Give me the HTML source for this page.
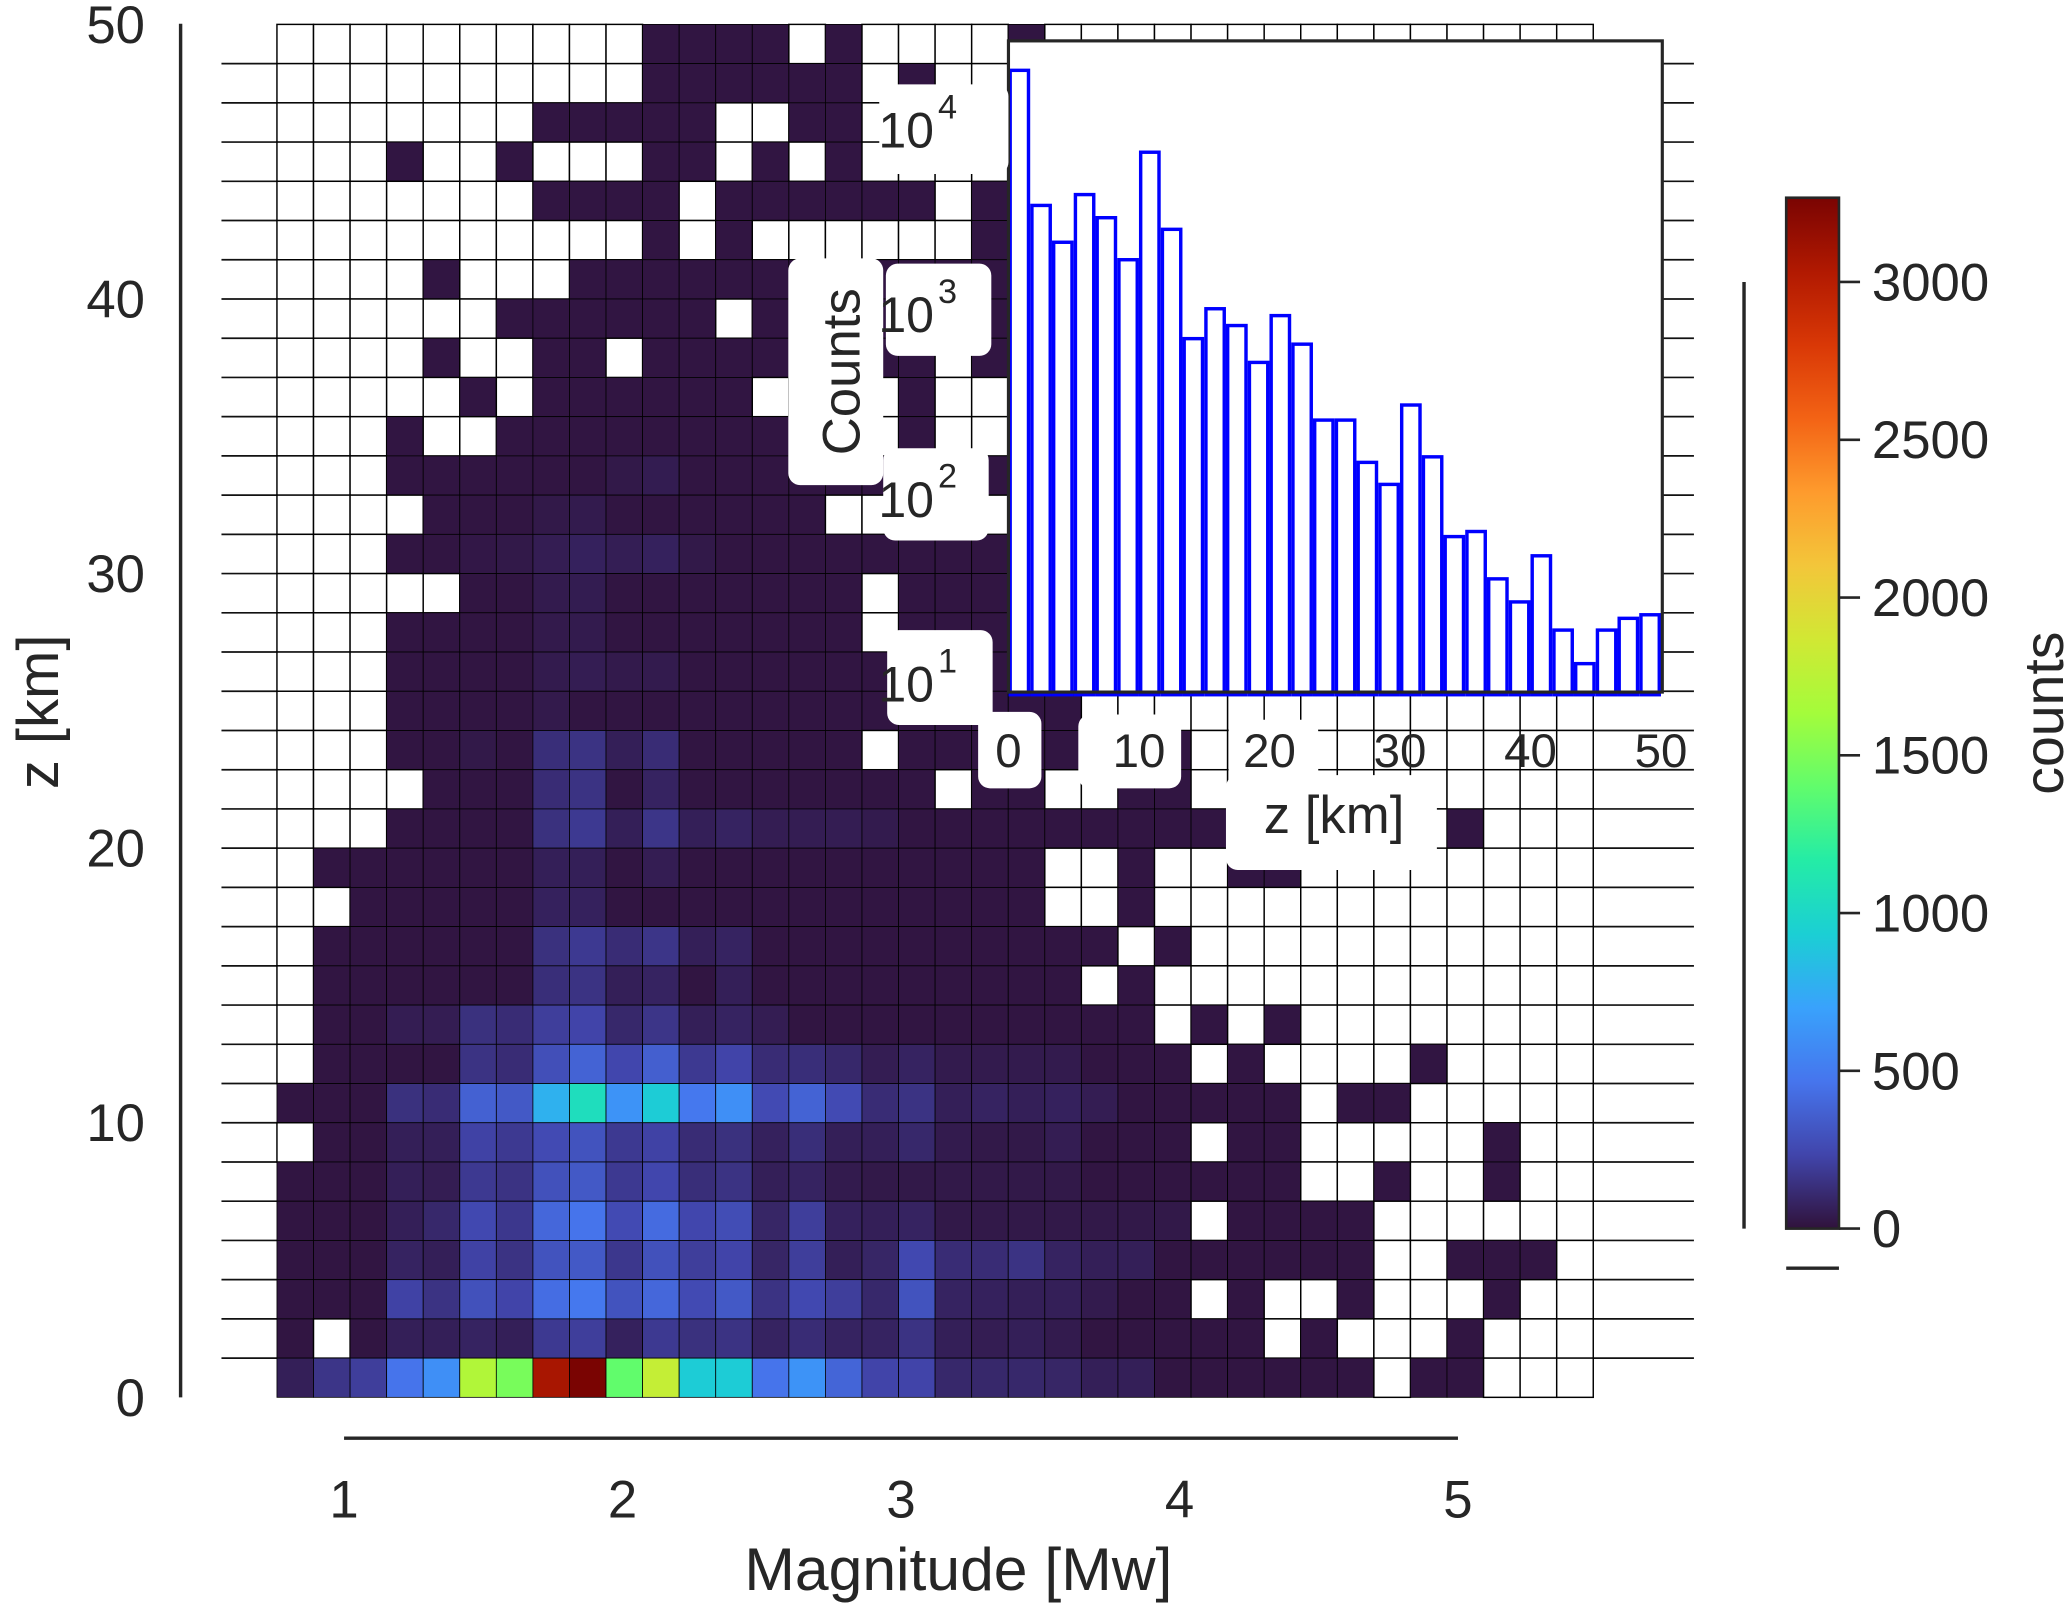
<!DOCTYPE html>
<html><head><meta charset="utf-8"><title>Magnitude vs depth heatmap</title>
<style>
html,body{margin:0;padding:0;background:#fff;}
svg{display:block;}
text{font-family:"Liberation Sans Narrow","Liberation Sans",Arial,sans-serif;fill:#262626;}
</style></head>
<body>
<svg id="chart" width="2067" height="1608" viewBox="0 0 1568 1219.8" xmlns="http://www.w3.org/2000/svg">
  <rect x="0" y="0" width="1568" height="1220" fill="#fff"/>
  <g id="gridlines"></g>
  <g id="heatmap"></g>
  <g id="axes"></g>
  <g id="inset"></g>
  <g id="colorbar"></g>
</svg>
<script>
// ---------- heatmap data (rows top = deepest bin, bottom = 0 km) ----------
const magMin = 0.759;
const magBinW = 0.1313;
const nCols = 36;
const zMax = 50;
const nRows = 35;
const vmax = 3267;
const D = 15;
const _ = null;
const counts = [
/*0*/ [_,_,_,_,_,_,_,_,_,_,D,D,D,D,_,D,_,_,_,_,D,_,_,_,_,_,_,_,_,_,_,_,_,_,_,_],
/*1*/ [_,_,_,_,_,_,_,_,_,_,D,D,D,D,D,D,_,D,_,_,_,_,_,_,_,_,_,_,_,_,_,_,_,_,_,_],
/*2*/ [_,_,_,_,_,_,_,D,D,D,D,D,_,_,D,D,_,_,_,_,_,_,_,_,_,_,_,_,_,_,_,_,_,_,_,_],
/*3*/ [_,_,_,D,_,_,D,_,_,_,D,D,_,D,_,D,_,_,_,_,_,_,_,_,_,_,_,_,_,_,_,_,_,_,_,_],
/*4*/ [_,_,_,_,_,_,_,D,D,D,D,_,D,D,D,D,D,D,_,D,_,_,_,_,_,_,_,_,_,_,_,_,_,_,_,_],
/*5*/ [_,_,_,_,_,_,_,_,_,_,D,_,D,_,_,_,_,_,_,D,_,_,_,_,_,_,_,_,_,_,_,_,_,_,_,_],
/*6*/ [_,_,_,_,D,_,_,_,D,D,D,D,D,D,D,D,D,D,D,D,_,_,_,_,_,_,_,_,_,_,_,_,_,_,_,_],
/*7*/ [_,_,_,_,_,_,D,D,D,D,D,D,_,D,D,D,D,D,D,D,_,_,_,_,_,_,_,_,_,_,_,_,_,_,_,_],
/*8*/ [_,_,_,_,D,_,_,D,D,_,D,D,D,D,D,D,D,D,_,D,_,_,_,_,_,_,_,_,_,_,_,_,_,_,_,_],
/*9*/ [_,_,_,_,_,D,_,D,D,D,D,D,D,_,D,D,_,D,_,_,_,_,_,_,_,_,_,_,_,_,_,_,_,_,_,_],
/*10*/[_,_,_,D,_,_,D,D,D,D,D,D,D,D,D,D,_,D,_,_,_,_,_,_,_,_,_,_,_,_,_,_,_,_,_,_],
/*11*/[_,_,_,D,D,D,D,D,D,30,45,D,D,D,D,D,D,D,D,D,_,_,_,_,_,_,_,_,_,_,_,_,_,_,_,_],
/*12*/[_,_,_,_,D,D,D,30,40,D,D,D,D,D,D,_,_,_,_,_,_,_,_,_,_,_,_,_,_,_,_,_,_,_,_,_],
/*13*/[_,_,_,D,D,25,30,50,70,55,70,30,D,D,D,D,D,D,D,D,_,_,_,_,_,_,_,_,_,_,_,_,_,_,_,_],
/*14*/[_,_,_,_,_,D,D,40,45,D,D,D,D,D,D,D,_,D,D,D,_,_,_,_,_,_,_,_,_,_,_,_,_,_,_,_],
/*15*/[_,_,_,D,D,D,D,35,40,D,D,D,D,D,D,D,_,D,D,D,_,_,_,_,_,_,_,_,_,_,_,_,_,_,_,_],
/*16*/[_,_,_,D,D,D,D,40,50,35,40,D,D,D,D,D,D,D,D,D,_,_,_,_,_,_,_,_,_,_,_,_,_,_,_,_],
/*17*/[_,_,_,D,D,D,D,35,D,D,D,D,D,D,D,D,D,D,D,D,D,D,_,_,_,_,_,_,_,_,_,_,_,_,_,_],
/*18*/[_,_,_,D,D,30,D,130,150,60,120,D,D,D,D,D,_,D,D,D,D,D,D,D,D,_,_,_,_,_,_,_,_,_,_,_],
/*19*/[_,_,_,_,D,D,D,120,150,D,80,D,D,D,D,D,D,D,_,D,D,_,_,D,D,_,_,_,_,_,_,_,_,_,_,_],
/*20*/[_,_,_,D,D,D,D,140,180,60,160,60,80,50,50,50,40,D,D,D,D,D,D,D,D,D,D,D,_,_,_,_,D,_,_,_],
/*21*/[_,D,D,D,D,D,D,60,60,D,50,D,D,D,D,D,D,D,D,D,D,_,_,D,_,_,D,D,_,_,_,_,_,_,_,_],
/*22*/[_,_,D,D,D,D,D,70,70,D,D,D,D,D,D,D,D,D,D,D,D,_,_,D,_,_,_,_,_,_,_,_,_,_,_,_],
/*23*/[_,D,D,D,D,D,D,140,180,120,160,60,80,D,D,D,D,D,D,D,D,D,D,_,D,_,_,_,_,_,_,_,_,_,_,_],
/*24*/[_,D,D,D,D,D,D,130,150,60,80,D,60,D,D,D,D,D,D,D,D,D,_,D,_,_,_,_,_,_,_,_,_,_,_,_],
/*25*/[_,D,D,50,50,140,120,200,230,100,160,60,80,50,D,D,D,D,D,D,D,D,D,D,_,D,_,D,_,_,_,_,_,_,_,_],
/*26*/[_,D,D,D,D,150,120,280,380,240,360,180,230,120,130,100,50,80,40,40,40,40,D,D,D,_,D,_,_,_,_,D,_,_,_,_],
/*27*/[D,D,D,140,120,370,330,780,1050,620,920,480,600,260,380,260,120,150,60,80,60,70,50,D,D,D,D,D,_,D,D,_,_,_,_,_],
/*28*/[_,D,D,60,60,220,180,260,300,180,220,120,140,70,130,60,60,100,40,30,30,50,D,D,D,_,D,D,_,_,_,_,_,D,_,_],
/*29*/[D,D,D,60,50,180,150,290,330,180,240,130,150,60,80,40,30,30,30,30,30,30,D,D,D,D,D,D,_,_,D,_,_,D,_,_],
/*30*/[D,D,D,60,100,250,170,400,460,260,420,240,270,90,200,70,60,80,30,30,30,30,30,30,30,_,D,D,D,D,_,_,_,_,_,_],
/*31*/[D,D,D,80,60,220,150,300,330,170,290,200,230,90,200,60,90,250,120,120,150,80,60,60,D,D,D,D,D,D,_,_,D,D,D,_],
/*32*/[D,D,D,220,150,290,230,430,480,300,400,260,330,150,250,200,100,300,80,70,60,60,40,D,D,_,D,_,_,D,_,_,_,D,_,_],
/*33*/[D,_,D,60,60,80,60,180,200,70,180,140,150,80,120,80,80,150,60,50,60,40,D,D,D,D,D,_,D,_,_,_,D,_,_,_],
/*34*/[60,160,200,460,600,1700,1480,3070,3267,1400,1800,920,920,460,620,390,230,230,100,100,100,90,60,60,D,D,D,D,D,D,_,D,D,_,_,_]
];

// ---------- inset histogram data ----------
const histEdges0 = 0;
const histBinW = 50/30;
const histCounts = [20500,3800,2400,4350,3260,1930,7380,2820,721,1047,849,536,961,673,261,261,154,117,315,165,61,65,36,27,48,19,12.5,19,22,23];
const insetXTicks = [0,10,20,30,40,50];
const insetYTicks = [1,2,3,4];

// ---------- axis ticks ----------
const magTicks = [1,2,3,4,5];
const zTicks = [0,10,20,30,40,50];
const cbarTicks = [0,500,1000,1500,2000,2500,3000];

// ---------- scales ----------
const hx0 = 210, hx1 = 1208, hyTop = 18.5, hyBot = 1060;
function xMag(m){ return 261 + (m-1)*211.25; }
function yZ(z){ return hyBot - z*(hyBot-hyTop)/zMax; }
const ix0 = 765, ix1 = 1261, iyTop = 31, iyBot = 525;
function xIn(z){ return ix0 + z*(1260-ix0)/50; }
function yIn(v){ return 517 - (Math.log10(v)-1)*140; }
const cbX = 1355, cbW = 40, cbTop = 150, cbBot = 932;
function yCb(v){ return cbBot - v*(cbBot-cbTop)/vmax; }

const turbo = ["#30123b","#4145ab","#4675ed","#39a2fc","#1bcfd4","#24eca6","#61fc6c","#a4fc3b","#d1e834","#f3c63a","#fe9b2d","#f36315","#d93806","#b11901","#7a0402"];
function hex(h){return [parseInt(h.substr(1,2),16),parseInt(h.substr(3,2),16),parseInt(h.substr(5,2),16)];}
function cmap(v){
  let t=Math.max(0,Math.min(1,v/vmax))*(turbo.length-1);
  let i=Math.min(Math.floor(t),turbo.length-2), f=t-i;
  let a=hex(turbo[i]), b=hex(turbo[i+1]);
  return "rgb("+a.map((c,k)=>Math.round(c+(b[k]-c)*f)).join(",")+")";
}
const NS="http://www.w3.org/2000/svg";
function mk(tag, attrs, parent){
  const e=document.createElementNS(NS,tag);
  for(const k in attrs) e.setAttribute(k,attrs[k]);
  parent.appendChild(e); return e;
}
function txt(parent, x, y, s, size, anchor, extra){
  const t=mk("text",Object.assign({x:x,y:y,"font-size":size,"text-anchor":anchor||"middle"},extra||{}),parent);
  t.textContent=s; return t;
}

// gridlines extending beyond heatmap
const gl=document.getElementById("gridlines");
for(let r=1;r<nRows;r++){
  const y=yZ(r*zMax/nRows);
  const l=mk("line",{x1:168,x2:1285,y1:y,y2:y,stroke:"#111","stroke-width":1.3},gl);
  
  
}

// heatmap cells
const hm=document.getElementById("heatmap");
for(let r=0;r<nRows;r++){
  const zHi=zMax - r*zMax/nRows, zLo=zMax-(r+1)*zMax/nRows;
  for(let c=0;c<nCols;c++){
    const v=counts[r][c];
    const mL=magMin+c*magBinW, mR=magMin+(c+1)*magBinW;
    const x=xMag(mL), w=xMag(mR)-x, y=yZ(zHi), h=yZ(zLo)-y;
    const rc=mk("rect",{x:x,y:y,width:w,height:h,fill:v===null?"#fff":cmap(v),stroke:"#000","stroke-width":v===null?1.1:0.6},hm);
    
    
  }
}

// main axes
const ax=document.getElementById("axes");
const ysp=mk("line",{x1:137,x2:137,y1:18,y2:1060,stroke:"#262626","stroke-width":2.6},ax);


const xsp=mk("line",{x1:xMag(1),x2:xMag(5),y1:1091,y2:1091,stroke:"#262626","stroke-width":2.6},ax);


zTicks.forEach(z=>{
  const t=txt(ax,110,yZ(z)+14,String(z),40,"end");
  
  
});
magTicks.forEach(m=>{
  const t=txt(ax,xMag(m),1151,String(m),40,"middle");
  
  
});
const xt=txt(ax,727,1206,"Magnitude [Mw]",46,"middle");


const yt=txt(ax,0,0,"z [km]",44,"middle",{transform:"translate(44,540) rotate(-90)"});



// inset
const ins=document.getElementById("inset");
const ibg=mk("rect",{x:ix0,y:iyTop,width:ix1-ix0,height:iyBot-iyTop,fill:"#fff"},ins);


histCounts.forEach((v,i)=>{
  const x=xIn(histEdges0+i*histBinW), x2=xIn(histEdges0+(i+1)*histBinW);
  const y=Math.max(iyTop,yIn(v));
  const b=mk("rect",{x:x+1.3,y:y,width:x2-x-2.6,height:iyBot-y+2,fill:"none",stroke:"#0000ff","stroke-width":2.6},ins);
  
  
});
const ifr=mk("rect",{x:ix0,y:iyTop,width:ix1-ix0,height:iyBot-iyTop,fill:"none",stroke:"#262626","stroke-width":2.4},ins);


// label boxes
const boxes=[[667,64,98,68,'ytick-box'],[672,200,80,70,'ytick-box'],[598,196,72,172,'counts-box'],[670,340,80,70,'ytick-box'],[673,478,80,72,'ytick-box'],[742,540,48,58,'xtick-box'],[818,542,78,56,'xtick-box'],[932,546,68,50,'xtick-box'],[930,588,160,72,'xlabel-box']];
boxes.forEach(b=>{
  const r=mk("rect",{x:b[0],y:b[1],width:b[2],height:b[3],rx:9,fill:"#fff"},ins);
  
  
});
insetYTicks.forEach(p=>{
  const t=mk("text",{x:726,y:yIn(Math.pow(10,p))+15,"font-size":38,"text-anchor":"end"},ins);
  t.textContent="10";
  const s=mk("tspan",{dx:3,dy:-22,"font-size":26},t);
  s.textContent=String(p);
  
  
});
insetXTicks.forEach(z=>{
  const t=txt(ins,xIn(z),582,String(z),36,"middle");
  
  
});
const ixl=txt(ins,1012,632,"z [km]",40,"middle");


const iyl=txt(ins,0,0,"Counts",40,"middle",{transform:"translate(652,282) rotate(-90)"});



// colorbar
const cb=document.getElementById("colorbar");
const defs=mk("defs",{},cb);
const grad=mk("linearGradient",{id:"tg",x1:0,y1:1,x2:0,y2:0},defs);
turbo.forEach((c,i)=>mk("stop",{offset:(i/(turbo.length-1)),"stop-color":c},grad));
const cbr=mk("rect",{x:cbX,y:cbTop,width:cbW,height:cbBot-cbTop,fill:"url(#tg)",stroke:"#262626","stroke-width":2},cb);


cbarTicks.forEach(v=>{
  const y=yCb(v);
  mk("line",{x1:cbX+cbW,x2:cbX+cbW+16,y1:y,y2:y,stroke:"#262626","stroke-width":2},cb);
  const t=txt(cb,1420,y+14,String(v),40,"start");
  
  
});
const cbs=mk("line",{x1:1323,x2:1323,y1:yCb(3000),y2:cbBot,stroke:"#262626","stroke-width":2.6},cb);


const cbs2=mk("line",{x1:cbX,x2:cbX+cbW,y1:962,y2:962,stroke:"#262626","stroke-width":2.6},cb);


const cbl=txt(cb,0,0,"counts",42,"middle",{transform:"translate(1565,541) rotate(-90)"});


</script>
</body></html>
